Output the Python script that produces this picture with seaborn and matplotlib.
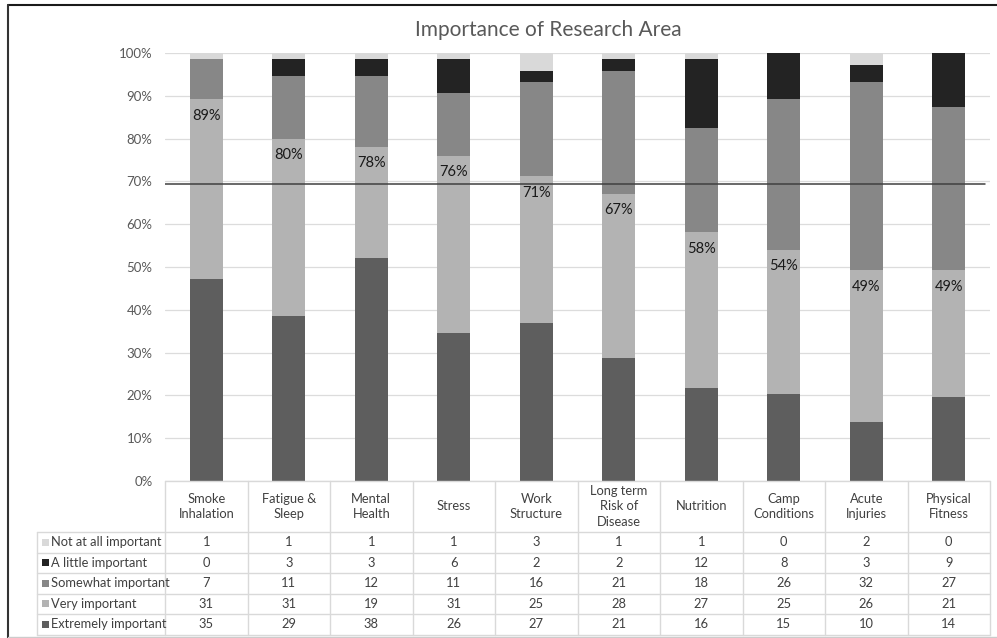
import numpy as np
import pandas as pd
import seaborn as sns
import matplotlib.pyplot as plt
from matplotlib.lines import Line2D
from matplotlib.patches import Rectangle

categories = ["Smoke\nInhalation", "Fatigue &\nSleep", "Mental\nHealth", "Stress", "Work\nStructure",
              "Long term\nRisk of\nDisease", "Nutrition", "Camp\nConditions", "Acute\nInjuries", "Physical\nFitness"]
not_at_all = [1, 1, 1, 1, 3, 1, 1, 0, 2, 0]
a_little = [0, 3, 3, 6, 2, 2, 12, 8, 3, 9]
somewhat = [7, 11, 12, 11, 16, 21, 18, 26, 32, 27]
very = [31, 31, 19, 31, 25, 28, 27, 25, 26, 21]
extremely = [35, 29, 38, 26, 27, 21, 16, 15, 10, 14]
series_names = ["Not at all important", "A little important", "Somewhat important",
                "Very important", "Extremely important"]
threshold = 69.3
title = "Importance of Research Area"

colors = {
    "Not at all important": "#d9d9d9",
    "A little important": "#232323",
    "Somewhat important": "#878787",
    "Very important": "#b3b3b3",
    "Extremely important": "#5e5e5e",
}

sns.set_theme(style="white")
plt.rcParams['font.family'] = ['Lato', 'DejaVu Sans']

W, H = 997, 638
fig = plt.figure(figsize=(W / 100, H / 100), dpi=100)
fig.patch.set_facecolor("white")
ax = fig.add_axes([165 / W, 1 - 481 / H, 825 / W, 428 / H])

df = pd.DataFrame({
    "Not at all important": not_at_all,
    "A little important": a_little,
    "Somewhat important": somewhat,
    "Very important": very,
    "Extremely important": extremely,
}, index=categories)
total = df.sum(axis=1)
pct = df.div(total, axis=0) * 100
stack_order = ["Extremely important", "Very important", "Somewhat important",
               "A little important", "Not at all important"]
cum = pct[stack_order].cumsum(axis=1)

for name in reversed(stack_order):
    d = pd.DataFrame({"cat": categories, "val": cum[name].values})
    sns.barplot(data=d, x="cat", y="val", order=categories, color=colors[name],
                saturation=1, width=0.4, linewidth=0, ax=ax, zorder=3)

ax.set_xlim(-0.5, len(categories) - 0.5)
ax.set_ylim(0, 100)
ax.set_yticks(np.arange(0, 101, 10))
ax.set_yticklabels([f"{v}%" for v in range(0, 101, 10)], color="#595959", fontsize=9.5)
ax.tick_params(axis="y", length=0, pad=9)
ax.set_xticks([])
ax.set_xlabel("")
ax.set_ylabel("")
ax.yaxis.grid(True, color="#dcdcdc", lw=0.9)
ax.set_axisbelow(True)
for s in ax.spines.values():
    s.set_visible(False)

# labels: extremely + very share
share = (df["Extremely important"] + df["Very important"]) / total * 100
tops = cum["Very important"].values
for i, (t, s) in enumerate(zip(tops, share.values)):
    ax.annotate(f"{s:.0f}%", xy=(i, t), xytext=(0, -12), textcoords="offset points",
                ha="center", va="center", fontsize=10.5, color="#1a1a1a", zorder=5)

ax.axhline(threshold, xmin=0, xmax=0.994, color="#404040", lw=1.1, zorder=6)

# overlay for table and frame
ov = fig.add_axes([0, 0, 1, 1], facecolor="none")
ov.set_xlim(0, W)
ov.set_ylim(H, 0)
ov.axis("off")

fig.text(548 / W, 1 - 30 / H, title, ha="center", va="center", fontsize=15, color="#595959")

col_edges = [165 + 82.5 * i for i in range(len(categories) + 1)]
row_edges = [532, 552.5, 573, 593.5, 614, 634.5]
grid_c = "#d9d9d9"
ov.add_line(Line2D([165, 990], [481, 481], color=grid_c, lw=1))
for x in col_edges:
    ov.add_line(Line2D([x, x], [481, row_edges[-1]], color=grid_c, lw=1))
ov.add_line(Line2D([37, 37], [row_edges[0], row_edges[-1]], color=grid_c, lw=1))
for y in row_edges:
    ov.add_line(Line2D([37, 990], [y, y], color=grid_c, lw=1))

for i, c in enumerate(categories):
    cx = (col_edges[i] + col_edges[i + 1]) / 2
    ov.text(cx, 506.5, c, ha="center", va="center", fontsize=9.3, color="#404040", linespacing=1.35)

for r, name in enumerate(series_names):
    cy = (row_edges[r] + row_edges[r + 1]) / 2
    ov.add_patch(Rectangle((41.5, cy - 3.5), 7, 7, color=colors[name], lw=0))
    ov.text(51, cy, name, ha="left", va="center", fontsize=9.3, color="#404040")
    vals = df[name].values
    for i, v in enumerate(vals):
        cx = (col_edges[i] + col_edges[i + 1]) / 2
        ov.text(cx, cy, str(v), ha="center", va="center", fontsize=9.3, color="#404040")

# outer frame (screenshot border)
ov.add_line(Line2D([8, W], [5, 5], color="#1a1a1a", lw=1.5))
ov.add_line(Line2D([8, 8], [5, H], color="#333333", lw=1.5))
ov.add_line(Line2D([8, W], [637, 637], color="#cccccc", lw=1))

fig.savefig("out.png", dpi=100)
